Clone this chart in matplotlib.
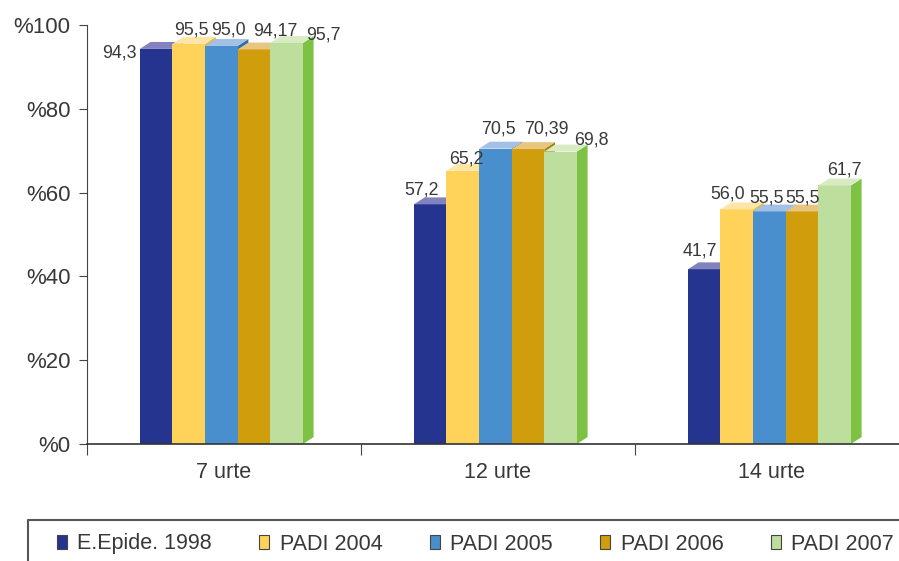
import numpy as np
import matplotlib.pyplot as plt
from matplotlib.patches import Polygon, Patch
from matplotlib.lines import Line2D

plt.rcParams['font.family'] = ['Liberation Sans', 'DejaVu Sans']

# datos
categorias = ['7 urte', '12 urte', '14 urte']
series = ['E.Epide. 1998', 'PADI 2004', 'PADI 2005', 'PADI 2006', 'PADI 2007']
valores = [
    [94.3, 57.2, 41.7],
    [95.5, 65.2, 56.0],
    [95.0, 70.5, 55.5],
    [94.17, 70.39, 55.5],
    [95.7, 69.8, 61.7],
]
etiquetas = [
    ['94,3', '57,2', '41,7'],
    ['95,5', '65,2', '56,0'],
    ['95,0', '70,5', '55,5'],
    ['94,17', '70,39', '55,5'],
    ['95,7', '69,8', '61,7'],
]
y_ticks = [0, 20, 40, 60, 80, 100]

# colores: frente, cara superior, lateral
frente = ['#25348F', '#FFD35A', '#4A8FCD', '#D09E0C', '#BEDE9E']
arriba = ['#8282BE', '#FFE6A6', '#A3C1E6', '#E8C681', '#D8EBC4']
lateral = ['#1A2670', '#E8B840', '#2F6FAE', '#A87E08', '#7DC242']

# desplazamiento de las etiquetas respecto al centro superior de cada barra (pixeles)
desp = [
    [(-37, -4), (-9, 14), (-4, 18)],
    [(3, 14), (4, 12), (-9, 15)],
    [(7, 16), (3, 20), (-3, 13)],
    [(21, 18), (18, 20), (1, 13)],
    [(37, 8), (31, 12), (10, 15)],
]

fig = plt.figure(figsize=(8.99, 5.61), dpi=100)
ax = fig.add_axes([87 / 899, 1 - 444 / 561, 822 / 899, 419 / 561])

ancho = 0.119
inicio = 0.193
dx = 0.039
dy = 1.65
gris = '#383838'

for j in range(len(categorias)):
    for i in range(len(series)):
        x0 = j + inicio + i * ancho
        h = valores[i][j]
        ax.add_patch(Polygon([(x0 + ancho, 0), (x0 + ancho + dx, dy),
                              (x0 + ancho + dx, h + dy), (x0 + ancho, h)],
                             closed=True, facecolor=lateral[i], edgecolor='none', zorder=2))
        ax.bar(x0, h, width=ancho, align='edge', color=frente[i], zorder=3)
        ax.add_patch(Polygon([(x0, h), (x0 + ancho, h), (x0 + ancho + dx, h + dy),
                              (x0 + dx, h + dy)],
                             closed=True, facecolor=arriba[i], edgecolor='none', zorder=3))
        ax.annotate(etiquetas[i][j], (x0 + ancho / 2, h),
                    xytext=desp[i][j], textcoords='offset pixels',
                    ha='center', va='center', fontsize=12.8, color=gris, zorder=5)

ax.set_xlim(0, 3)
ax.set_ylim(0, 100)
ax.set_yticks(y_ticks)
ax.set_yticklabels(['%' + str(v) for v in y_ticks], fontsize=16, color=gris)
ax.set_xticks([0, 1, 2, 3])
ax.set_xticklabels([])
ax.set_xticks([0.5, 1.5, 2.5], minor=True)
ax.set_xticklabels(categorias, minor=True, fontsize=15.5, color=gris)
ax.tick_params(axis='x', which='minor', length=0, pad=13)
ax.tick_params(axis='x', which='major', length=8, direction='out', color='#444444')
ax.tick_params(axis='y', length=6, direction='out', color='#444444', pad=6)
for s in ['top', 'right']:
    ax.spines[s].set_visible(False)
ax.spines['left'].set_color('#444444')
ax.spines['bottom'].set_color('#333333')
ax.spines['bottom'].set_linewidth(1.2)
ax.spines['bottom'].set_zorder(6)

# caja de la leyenda
fig.add_artist(Line2D([28 / 899, 28 / 899, 1.0], [0, 1 - 520 / 561, 1 - 520 / 561],
                      color='#555555', linewidth=1.5))
handles = [Patch(facecolor=frente[i], edgecolor='#444444', linewidth=0.8) for i in range(len(series))]
fig.legend(handles, series, loc='center left', bbox_to_anchor=(57 / 899, 1 - 544 / 561),
           ncol=5, frameon=False, fontsize=15.5, handlelength=0.45, handleheight=0.6,
           handletextpad=0.5, columnspacing=2.2, labelcolor=gris, borderaxespad=0,
           borderpad=0)

fig.savefig('out.png', dpi=100)
